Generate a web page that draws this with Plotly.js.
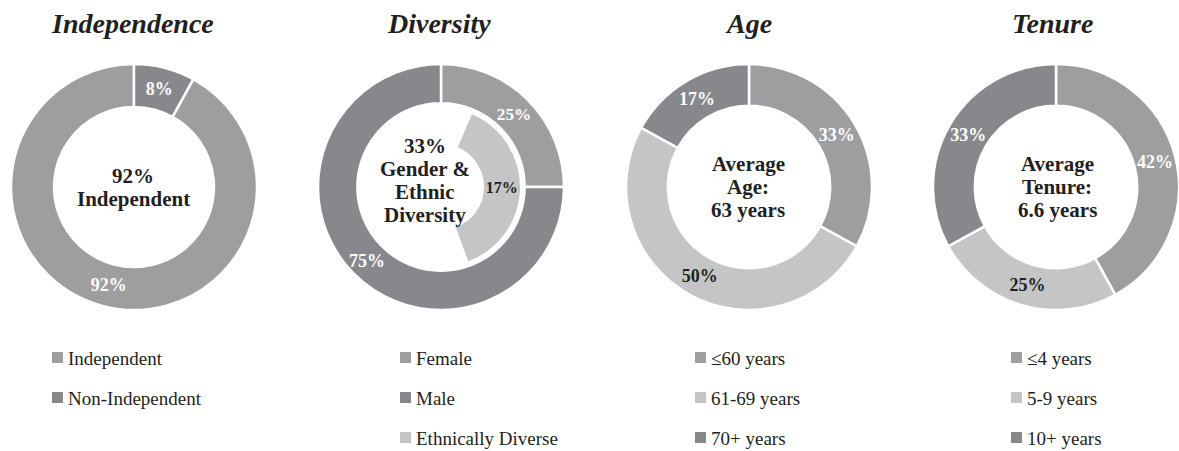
<!DOCTYPE html>
<html>
<head>
<meta charset="utf-8">
<script src="https://cdn.plot.ly/plotly-3.0.1.min.js"></script>
<style>html,body{margin:0;padding:0;background:#fff;}#chart{width:1179px;height:451px;}</style>
</head>
<body>
<div id="chart"></div>
<script>
// ---------- DATA ----------
const chartTitles = ['Independence', 'Diversity', 'Age', 'Tenure'];

const independenceLabels = ['Independent', 'Non-Independent'];
const independenceValues = [92, 8];

const genderLabels = ['Female', 'Male'];
const genderValues = [25, 75];
const ethnicLabel = 'Ethnically Diverse';
const ethnicValue = 17;          // printed value
const ethnicArcShare = 38;       // angular share of the inner arc as drawn (percent of circle)
const ethnicArcStartDeg = 23;

const ageLabels = ['\u226460 years', '61-69 years', '70+ years'];
const ageValues = [33, 50, 17];

const tenureLabels = ['\u22644 years', '5-9 years', '10+ years'];
const tenureValues = [42, 25, 33];

const centerTexts = [
  ['92%', 'Independent'],
  ['33%', 'Gender &', 'Ethnic', 'Diversity'],
  ['Average', 'Age:', '63 years'],
  ['Average', 'Tenure:', '6.6 years']
];

// ---------- STYLE ----------
const W = 1179, H = 451;
const MID = '#9E9EA1', DARK = '#88888C', LIGHT = '#C5C5C7';
const WHITE = '#FFFFFF', INK = '#231F20';
const SERIF = '"Liberation Serif", "Times New Roman", Times, serif';

const centers = [[134, 187], [441, 187], [749, 187], [1056, 187]];
const R = 123;

function domainFor(cx, cy, r) {
  return { x: [(cx - r) / W, Math.min(1, (cx + r) / W)], y: [1 - (cy + r) / H, 1 - (cy - r) / H] };
}
function pct(v) { return v + '%'; }

const traces = [];
const annotations = [];
const shapes = [];

// Independence
traces.push({
  type: 'pie', labels: independenceLabels, values: independenceValues,
  sort: false, direction: 'clockwise',
  rotation: 360 * independenceValues[1] / (independenceValues[0] + independenceValues[1]),
  hole: 0.65, domain: domainFor(centers[0][0], centers[0][1], R),
  marker: { colors: [MID, DARK], line: { color: WHITE, width: 2.5 } },
  text: independenceValues.map(v => '<b>' + pct(v) + '</b>'), textinfo: 'text',
  textposition: 'inside', insidetextorientation: 'horizontal',
  textfont: { family: SERIF, size: 18, color: [WHITE, WHITE] },
  hoverinfo: 'none', showlegend: false
});

// Diversity outer (Male label placed at slice mid-angle via annotation)
traces.push({
  type: 'pie', labels: genderLabels, values: genderValues,
  sort: false, direction: 'clockwise', rotation: 0,
  hole: 0.68, domain: domainFor(centers[1][0], centers[1][1], R),
  marker: { colors: [MID, DARK], line: { color: WHITE, width: 2.5 } },
  text: ['<b>' + pct(genderValues[0]) + '</b>', ''], textinfo: 'text',
  textposition: 'inside', insidetextorientation: 'horizontal',
  textfont: { family: SERIF, size: 18, color: [WHITE, WHITE] },
  hoverinfo: 'none', showlegend: false
});
(function () {
  const tot = genderValues[0] + genderValues[1];
  const midDeg = 360 * (genderValues[0] + genderValues[1] / 2) / tot;
  const rr = 104, a = midDeg * Math.PI / 180;
  const x = centers[1][0] + rr * Math.sin(a), y = centers[1][1] - rr * Math.cos(a);
  annotations.push({
    xref: 'paper', yref: 'paper', x: x / W, y: 1 - y / H, xanchor: 'center', yanchor: 'middle',
    showarrow: false, text: '<b>' + pct(genderValues[1]) + '</b>',
    font: { family: SERIF, size: 18, color: WHITE }
  });
})();

// Diversity inner arc
traces.push({
  type: 'pie', labels: [ethnicLabel, ' '], values: [ethnicArcShare, 100 - ethnicArcShare],
  sort: false, direction: 'clockwise', rotation: ethnicArcStartDeg,
  hole: 0.545, domain: domainFor(centers[1][0], centers[1][1], 79),
  marker: { colors: [LIGHT, 'rgba(0,0,0,0)'], line: { color: WHITE, width: 0 } },
  text: ['<b>' + pct(ethnicValue) + '</b>', ''], textinfo: 'text',
  textposition: 'inside', insidetextorientation: 'horizontal',
  textfont: { family: SERIF, size: 16, color: [INK, INK] },
  hoverinfo: 'none', showlegend: false
});

// Age
traces.push({
  type: 'pie', labels: ageLabels, values: ageValues,
  sort: false, direction: 'clockwise', rotation: 0,
  hole: 0.66, domain: domainFor(centers[2][0], centers[2][1], R),
  marker: { colors: [MID, LIGHT, DARK], line: { color: WHITE, width: 2.5 } },
  text: ageValues.map(v => '<b>' + pct(v) + '</b>'), textinfo: 'text',
  textposition: 'inside', insidetextorientation: 'horizontal',
  textfont: { family: SERIF, size: 18, color: [WHITE, INK, WHITE] },
  hoverinfo: 'none', showlegend: false
});

// Tenure
traces.push({
  type: 'pie', labels: tenureLabels, values: tenureValues,
  sort: false, direction: 'clockwise', rotation: 0,
  hole: 0.66, domain: domainFor(centers[3][0], centers[3][1], R),
  marker: { colors: [MID, LIGHT, DARK], line: { color: WHITE, width: 2.5 } },
  text: tenureValues.map(v => '<b>' + pct(v) + '</b>'), textinfo: 'text',
  textposition: 'inside', insidetextorientation: 'horizontal',
  textfont: { family: SERIF, size: 18, color: [WHITE, INK, WHITE] },
  hoverinfo: 'none', showlegend: false
});

// ---------- ANNOTATIONS ----------
const titleX = [132, 439, 748, 1052];
chartTitles.forEach((t, i) => {
  annotations.push({
    xref: 'paper', yref: 'paper', x: titleX[i] / W, y: 1 - 23 / H,
    xanchor: 'center', yanchor: 'middle', showarrow: false,
    text: '<b><i>' + t + '</i></b>', font: { family: SERIF, size: 28, color: INK }
  });
});

// center labels
const centerX = [133, 425, 748, 1057];
const centerTopY = [176, 146, 164, 164];
const lineGap = 23;
centerTexts.forEach((lines, i) => {
  lines.forEach((ln, j) => {
    annotations.push({
      xref: 'paper', yref: 'paper', x: centerX[i] / W, y: 1 - (centerTopY[i] + j * lineGap) / H,
      xanchor: 'center', yanchor: 'middle', showarrow: false, borderpad: 0,
      text: '<b>' + ln.replace(/&/g, '&amp;') + '</b>', font: { family: SERIF, size: 21, color: INK }
    });
  });
});

// legends
const legends = [
  { x: 52, labels: independenceLabels, colors: [MID, DARK] },
  { x: 400, labels: genderLabels.concat([ethnicLabel]), colors: [MID, DARK, LIGHT] },
  { x: 695, labels: ageLabels, colors: [MID, LIGHT, DARK] },
  { x: 1011, labels: tenureLabels, colors: [MID, LIGHT, DARK] }
];
const legendRowY = [357.5, 397.5, 437.5];
const box = 11;
legends.forEach(lg => {
  lg.labels.forEach((lab, j) => {
    const cy = legendRowY[j];
    shapes.push({
      type: 'rect', xref: 'paper', yref: 'paper',
      x0: lg.x / W, x1: (lg.x + box) / W, y0: 1 - (cy + box / 2) / H, y1: 1 - (cy - box / 2) / H,
      fillcolor: lg.colors[j], line: { width: 0 }
    });
    annotations.push({
      xref: 'paper', yref: 'paper', x: (lg.x + box + 3) / W, y: 1 - (cy + 0.5) / H,
      xanchor: 'left', yanchor: 'middle', showarrow: false,
      text: lab, font: { family: SERIF, size: 19, color: INK }
    });
  });
});

const layout = {
  width: W, height: H,
  margin: { l: 0, r: 0, t: 0, b: 0 },
  paper_bgcolor: '#FFFFFF', plot_bgcolor: '#FFFFFF',
  showlegend: false,
  annotations: annotations, shapes: shapes
};

Plotly.newPlot('chart', traces, layout, { staticPlot: true, displayModeBar: false });
</script>
</body>
</html>
